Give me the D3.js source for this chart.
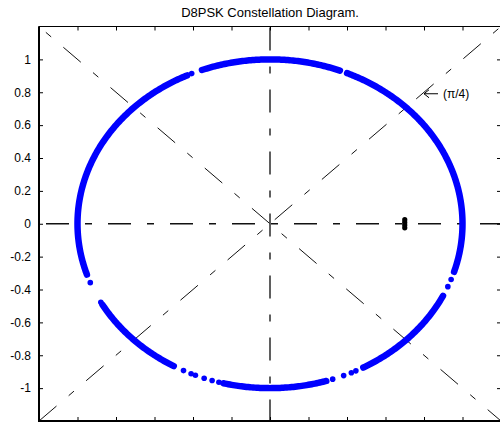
<!DOCTYPE html>
<html lang="en">
<head>
  <meta charset="utf-8" />
  <title>D8PSK Constellation Diagram</title>
  <script src="https://cdn.jsdelivr.net/npm/d3@7"></script>
  <style>
body{ margin:0; background:#fff; }
svg{ display:block; font-family:"Liberation Sans", Arial, sans-serif; }
  </style>
</head>
<body>
  <svg id="chart" width="500" height="425"></svg>
  <script>
  // received symbols (angles in degrees, unit radius)
  const denseArcs = [[-17, 66.4], [68.7, 110.7], [115.5, 198], [209.5, 240], [256, 287], [299, 334]];
  const looseDots = [114, 201, 208.5, 243.3, 245.8, 247.2, 250, 252.5, 254.6, 289, 292.5, 295, 296.5, 337.5, 340.2];
  // the black cluster near (0.7, 0)
  const blackX = [0.70, 0.70, 0.70, 0.70];
  const blackY = [-0.025, -0.008, 0.008, 0.025];
  const yTicks = [1, 0.8, 0.6, 0.4, 0.2, 0, -0.2, -0.4, -0.6, -0.8, -1];
  const xTicks = [-1.2, -1, -0.8, -0.6, -0.4, -0.2, 0, 0.2, 0.4, 0.6, 0.8, 1, 1.2];
  const guides = [
    {x1: -1.2, y1: 0, x2: 1.2, y2: 0, off: 55, w: 1.3, c: '#111'},
    {x1: 0, y1: 1.2, x2: 0, y2: -1.2, off: 61, w: 1.7, c: '#444'},
    {x1: -1.2, y1: 1.2, x2: 1.2, y2: -1.2, off: 30, w: 1, c: '#111'},
    {x1: -1.2, y1: -1.2, x2: 1.2, y2: 1.2, off: 0, w: 1, c: '#111'}
  ];
  const note = {x: 0.8, y: 0.8, label: '(\u03c0/4)'};
  const title = 'D8PSK Constellation Diagram.';

  const svg = d3.select('#chart');
  const x = d3.scaleLinear().domain([-1.2, 1.2]).range([39, 501]);
  const y = d3.scaleLinear().domain([-1.2, 1.2]).range([421, 26.5]);

  svg.append('text')
      .attr('x', x(0))
      .attr('y', 16.5)
      .attr('text-anchor', 'middle')
      .attr('font-size', 13)
      .text(title);

  // dash-dot reference lines
  svg.append('g').selectAll('line')
    .data(guides)
    .enter().append('line')
      .attr('x1', d => x(d.x1)).attr('y1', d => y(d.y1))
      .attr('x2', d => x(d.x2)).attr('y2', d => y(d.y2))
      .attr('stroke', d => d.c)
      .attr('stroke-width', d => d.w)
      .attr('stroke-dasharray', '23,16,7,16')
      .attr('stroke-dashoffset', d => d.off);

  // constellation ring
  const ring = d3.line()
      .x(a => x(Math.cos(a * Math.PI / 180)))
      .y(a => y(Math.sin(a * Math.PI / 180)));

  svg.append('g').selectAll('path')
    .data(denseArcs)
    .enter().append('path')
      .attr('d', d => ring(d3.range(d[0], d[1], 0.5).concat([d[1]])))
      .attr('fill', 'none')
      .attr('stroke', '#0000ff')
      .attr('stroke-width', 6.5)
      .attr('stroke-linecap', 'round');

  svg.append('g').selectAll('circle')
    .data(looseDots)
    .enter().append('circle')
      .attr('cx', a => x(Math.cos(a * Math.PI / 180)))
      .attr('cy', a => y(Math.sin(a * Math.PI / 180)))
      .attr('r', 2.8)
      .attr('fill', '#0000ff');

  svg.append('g').selectAll('circle')
    .data(blackX)
    .enter().append('circle')
      .attr('cx', d => x(d))
      .attr('cy', (d, i) => y(blackY[i]))
      .attr('r', 2.6)
      .attr('fill', '#000');

  // annotation
  const ax = x(note.x), ay = y(note.y) + 1.5;
  svg.append('path')
      .attr('d', `M${ax + 14},${ay}H${ax}M${ax + 5},${ay - 4}L${ax},${ay}L${ax + 5},${ay + 4}`)
      .attr('fill', 'none')
      .attr('stroke', '#000')
      .attr('stroke-width', 1);
  svg.append('text')
      .attr('x', ax + 19)
      .attr('y', ay + 4.5)
      .attr('font-size', 12)
      .text(note.label);

  // axes, ticks pointing inward
  const fmt = d => String(+d.toFixed(1));
  svg.append('g')
      .attr('transform', `translate(${x(-1.2)},0)`)
      .call(d3.axisLeft(y).tickValues(yTicks).tickFormat(fmt).tickSizeInner(-4).tickSizeOuter(0).tickPadding(8))
      .call(g => g.select('.domain').remove())
      .call(g => g.selectAll('text').attr('font-size', 12).attr('font-family', null));
  svg.append('g')
      .attr('transform', `translate(${x(1.2)},0)`)
      .call(d3.axisRight(y).tickValues(yTicks).tickFormat('').tickSizeInner(-4).tickSizeOuter(0))
      .call(g => g.select('.domain').remove());
  svg.append('g')
      .attr('transform', `translate(0,${y(1.2)})`)
      .call(d3.axisTop(x).tickValues(xTicks).tickFormat('').tickSizeInner(-4).tickSizeOuter(0))
      .call(g => g.select('.domain').remove());
  svg.append('g')
      .attr('transform', `translate(0,${y(-1.2)})`)
      .call(d3.axisBottom(x).tickValues(xTicks).tickFormat('').tickSizeInner(-4).tickSizeOuter(0))
      .call(g => g.select('.domain').remove());

  svg.append('rect')
      .attr('x', x(-1.2)).attr('y', y(1.2))
      .attr('width', x(1.2) - x(-1.2)).attr('height', y(-1.2) - y(1.2))
      .attr('fill', 'none')
      .attr('stroke', '#000');
  svg.append('path')
      .attr('d', `M${x(-1.2)},${y(1.2)}V${y(-1.2)}H${x(1.2)}`)
      .attr('fill', 'none')
      .attr('stroke', '#000')
      .attr('stroke-width', 2);
  </script>
</body>
</html>
